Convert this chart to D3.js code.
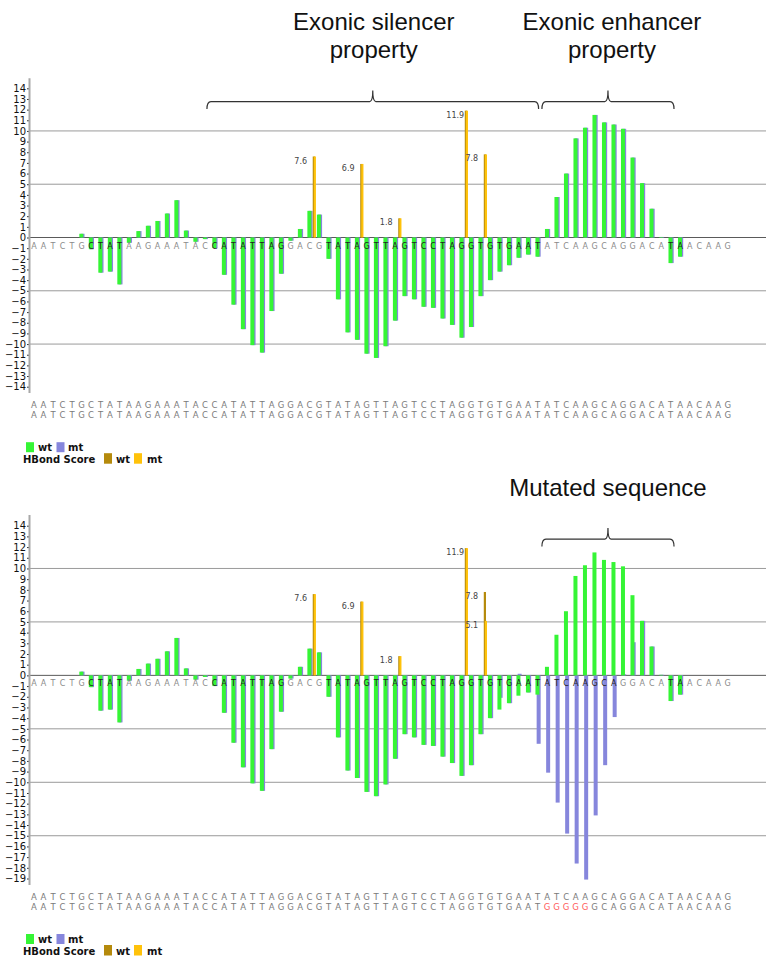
<!DOCTYPE html>
<html>
<head>
<meta charset="utf-8">
<script src="https://cdn.jsdelivr.net/npm/d3@7"></script>
<style>
  html, body { margin: 0; padding: 0; background: #fff; }
  svg { display: block; }
</style>
</head>
<body>
<svg id="chart" width="766" height="956"></svg>
<script>
// Wild-type and mutant sequences (mutant carries ATCAA -> GGGGG)
const wtSequence = "AATCTGCTATAAGAAATACCATATTAGGACGTATAGTTAGTCCTAGGTGTGAATATCAAGCAGGACATAACAAG";
const mtSequence = "AATCTGCTATAAGAAATACCATATTAGGACGTATAGTTAGTCCTAGGTGTGAATGGGGGGCAGGACATAACAAG";

// ESE/ESS score per nucleotide, wild-type
const wtScores = [
  0, 0, 0, 0, 0, 0.35, -1.1, -3.3, -3.2, -4.4,
  -0.5, 0.6, 1.1, 1.55, 2.25, 3.5, 0.65, -0.4, -0.15, -1.0,
  -3.5, -6.3, -8.6, -10.1, -10.8, -6.9, -3.4, -0.3, 0.8, 2.5,
  2.15, -2.0, -5.8, -8.9, -9.6, -10.9, -11.3, -10.2, -7.8, -5.5,
  -5.8, -6.5, -6.6, -7.6, -8.2, -9.4, -8.4, -5.5, -4.0, -3.2,
  -2.6, -1.9, -1.6, -1.8, 0.8, 3.8, 6.0, 9.3, 10.3, 11.5,
  10.8, 10.6, 10.2, 7.5, 5.1, 2.7, 0.05, -2.4, -1.8, 0,
  0, 0, 0, 0
];

// Same score for the mutated sequence
const mtScores = [
  0, 0, 0, 0, 0, 0.35, -1.1, -3.3, -3.2, -4.4,
  -0.5, 0.6, 1.1, 1.55, 2.25, 3.5, 0.65, -0.4, -0.15, -1.0,
  -3.5, -6.3, -8.6, -10.1, -10.8, -6.9, -3.4, -0.3, 0.8, 2.5,
  2.15, -2.0, -5.8, -8.9, -9.6, -10.9, -11.3, -10.2, -7.8, -5.5,
  -5.8, -6.5, -6.6, -7.6, -8.2, -9.4, -8.4, -5.5, -4.0, -2.1,
  -2.6, 0.15, -1.6, -6.4, -9.1, -11.9, -14.8, -17.6, -19.1, -13.1,
  -8.4, -3.9, 0.1, 3.1, 5.1, 2.7, 0.05, -2.4, -1.8, 0,
  0, 0, 0, 0
];

// HBond scores of the donor sites (site n lies between nucleotide n and n+1)
const spliceSites = [30, 35, 39, 46, 48];
const hbondWt = [7.6, 6.9, 1.8, 11.9, 7.8];
const hbondMt = [7.6, 6.9, 1.8, 11.9, 5.1];

// Y ticks of the two panels
const ticksTop = d3.range(14, -15, -1);
const ticksBottom = d3.range(14, -20, -1);

// Annotated regions (nucleotide span) and their captions
const regionsTop = [[19.2, 54.1], [54.45, 68.35]];
const regionsBottom = [[54.45, 68.35]];
const captionsTop = [["Exonic silencer", "property"], ["Exonic enhancer", "property"]];
const captionsBottom = [["Mutated sequence"]];

const COLORS = {
  wt: "#35f535",
  mt: "#8686dc",
  hbWt: "#b58a0c",
  hbMt: "#ffc20a",
  grid: "#9a9a9a",
  zero: "#5a5a5a",
  letter: "#8a8a8a",
  letterDark: "#222",
  mutated: "#ff5a5a"
};

const svg = d3.select("#chart");
const x = d3.scaleLinear().domain([1, 74]).range([34, 727.7]);
const AXIS_X = 29.5;

function drawPanel(opt) {
  const g = svg.append("g");
  const y = d3.scaleLinear().domain([14, opt.bottom]).range(opt.range);
  const n = wtSequence.length;
  const idx = d3.range(n);
  const wt = opt.wt, mt = opt.mt;

  // gridlines every 5 units and the zero line
  const gridVals = opt.ticks.filter(v => v % 5 === 0 && v !== 0);
  g.append("g").selectAll("line").data(gridVals).join("line")
    .attr("x1", AXIS_X).attr("x2", 766)
    .attr("y1", d => y(d)).attr("y2", d => y(d))
    .attr("stroke", COLORS.grid).attr("stroke-width", 1);
  g.append("line")
    .attr("x1", AXIS_X).attr("x2", 766)
    .attr("y1", y(0)).attr("y2", y(0))
    .attr("stroke", COLORS.zero).attr("stroke-width", 1);

  // axis
  const axis = d3.axisLeft(y).tickValues(opt.ticks).tickSize(2.5).tickPadding(1)
    .tickFormat(d3.format("d"));
  const ag = g.append("g").attr("transform", `translate(${AXIS_X},0)`).call(axis);
  ag.select(".domain").remove();
  ag.selectAll(".tick line").attr("stroke", "#333");
  ag.selectAll(".tick text").attr("font-family", "DejaVu Sans, sans-serif")
    .attr("font-size", 10).attr("fill", "#111");
  g.append("line")
    .attr("x1", AXIS_X).attr("x2", AXIS_X)
    .attr("y1", y(opt.axisTop)).attr("y2", y(opt.axisBottom))
    .attr("stroke", "#a8a8a8").attr("stroke-width", 2);

  // mutant bars sit behind, shifted right
  g.append("g").selectAll("rect").data(idx.filter(i => mt[i] !== 0)).join("rect")
    .attr("x", i => x(i + 1) - 1)
    .attr("width", 4)
    .attr("y", i => Math.min(y(0), y(mt[i])))
    .attr("height", i => Math.abs(y(mt[i]) - y(0)))
    .attr("fill", COLORS.mt);
  g.append("g").selectAll("rect").data(idx.filter(i => wt[i] !== 0)).join("rect")
    .attr("x", i => x(i + 1) - 2.2)
    .attr("width", 4)
    .attr("y", i => Math.min(y(0), y(wt[i])))
    .attr("height", i => Math.abs(y(wt[i]) - y(0)))
    .attr("fill", COLORS.wt);

  // HBond scores
  const sites = spliceSites.map((s, k) => ({ s, w: hbondWt[k], m: opt.hbMt[k] }));
  g.append("g").selectAll("rect").data(sites).join("rect")
    .attr("x", d => x(d.s + 0.5) - 1.6).attr("width", 2.2)
    .attr("y", d => y(d.w)).attr("height", d => y(0) - y(d.w))
    .attr("fill", COLORS.hbWt);
  g.append("g").selectAll("rect").data(sites).join("rect")
    .attr("x", d => x(d.s + 0.5) - 0.6).attr("width", 2.2)
    .attr("y", d => y(d.m)).attr("height", d => y(0) - y(d.m))
    .attr("fill", COLORS.hbMt);
  const labels = [];
  sites.forEach(d => {
    labels.push({ s: d.s, v: d.w });
    if (d.m !== d.w) labels.push({ s: d.s, v: d.m });
  });
  g.append("g").selectAll("text").data(labels).join("text")
    .attr("x", d => x(d.s + 0.5) - 20)
    .attr("y", d => y(d.v) + 7)
    .attr("font-family", "DejaVu Sans, sans-serif").attr("font-size", 8)
    .attr("fill", "#444")
    .text(d => d3.format(".1f")(d.v));

  // sequence along the zero line, darker where a bar crosses it
  g.append("g").selectAll("text").data(idx).join("text")
    .attr("x", i => x(i + 1))
    .attr("y", y(0) + 11)
    .attr("text-anchor", "middle")
    .attr("font-family", "DejaVu Sans, sans-serif").attr("font-size", 8)
    .attr("fill", i => (Math.min(wt[i], mt[i]) <= -0.8 ? COLORS.letterDark : COLORS.letter))
    .text(i => wtSequence[i]);

  // wt / mt sequences below the axis
  const yb = y(opt.bottom);
  [[wtSequence, 21], [opt.seq2, 31]].forEach(([seq, dy]) => {
    g.append("g").selectAll("text").data(idx).join("text")
      .attr("x", i => x(i + 1))
      .attr("y", yb + dy)
      .attr("text-anchor", "middle")
      .attr("font-family", "DejaVu Sans, sans-serif").attr("font-size", 8.5)
      .attr("fill", i => (seq[i] !== wtSequence[i] ? COLORS.mutated : "#7a7a7a"))
      .text(i => seq[i]);
  });

  // legend
  const lg = g.append("g").attr("font-family", "DejaVu Sans, sans-serif")
    .attr("font-weight", "bold").attr("font-size", 10).attr("fill", "#111");
  const r1 = yb + 55.5, r2 = yb + 66.5;
  lg.append("rect").attr("x", 26).attr("y", r1).attr("width", 8).attr("height", 10).attr("fill", COLORS.wt);
  lg.append("text").attr("x", 38).attr("y", r1 + 9).text("wt");
  lg.append("rect").attr("x", 56.5).attr("y", r1).attr("width", 8).attr("height", 10).attr("fill", COLORS.mt);
  lg.append("text").attr("x", 68).attr("y", r1 + 9).text("mt");
  lg.append("text").attr("x", 23).attr("y", r2 + 9.5).text("HBond Score");
  lg.append("rect").attr("x", 104).attr("y", r2).attr("width", 8).attr("height", 10.5).attr("fill", COLORS.hbWt);
  lg.append("text").attr("x", 116).attr("y", r2 + 9.5).text("wt");
  lg.append("rect").attr("x", 134).attr("y", r2).attr("width", 8).attr("height", 10.5).attr("fill", COLORS.hbMt);
  lg.append("text").attr("x", 147).attr("y", r2 + 9.5).text("mt");

  // curly braces over the annotated regions
  const by = y(12.75);
  opt.regions.forEach(([a, b]) => {
    const x0 = x(a), x1 = x(b), xm = (x0 + x1) / 2;
    const p = d3.path();
    p.moveTo(x0, by + 7.5);
    p.quadraticCurveTo(x0, by, x0 + 4, by);
    p.lineTo(xm - 3, by);
    p.quadraticCurveTo(xm, by, xm, by - 11);
    p.quadraticCurveTo(xm, by, xm + 3, by);
    p.lineTo(x1 - 4, by);
    p.quadraticCurveTo(x1, by, x1, by + 7.5);
    g.append("path").attr("d", p.toString()).attr("fill", "none")
      .attr("stroke", "#333").attr("stroke-width", 1.2);
  });

  // captions
  opt.captions.forEach((lines, k) => {
    const [a, b] = opt.regions[k];
    const cx = (x(a) + x(b)) / 2 + (opt.captionShift[k] || 0);
    lines.forEach((t, j) => {
      g.append("text").attr("x", cx).attr("y", opt.captionY + j * 28)
        .attr("text-anchor", "middle")
        .attr("font-family", "Liberation Sans, Arial, sans-serif")
        .attr("font-size", 24).attr("fill", "#111").text(t);
    });
  });
}

drawPanel({
  bottom: -14, range: [88.3, 386.7], ticks: ticksTop,
  axisTop: 14.95, axisBottom: -14.6,
  wt: wtScores, mt: wtScores, hbMt: hbondWt, seq2: wtSequence,
  regions: regionsTop, captions: captionsTop, captionY: 30, captionShift: [1, 4]
});

drawPanel({
  bottom: -19, range: [525.7, 878.5], ticks: ticksBottom,
  axisTop: 15, axisBottom: -19.6,
  wt: wtScores, mt: mtScores, hbMt: hbondMt, seq2: mtSequence,
  regions: regionsBottom, captions: captionsBottom, captionY: 496, captionShift: [0]
});
</script>
</body>
</html>
